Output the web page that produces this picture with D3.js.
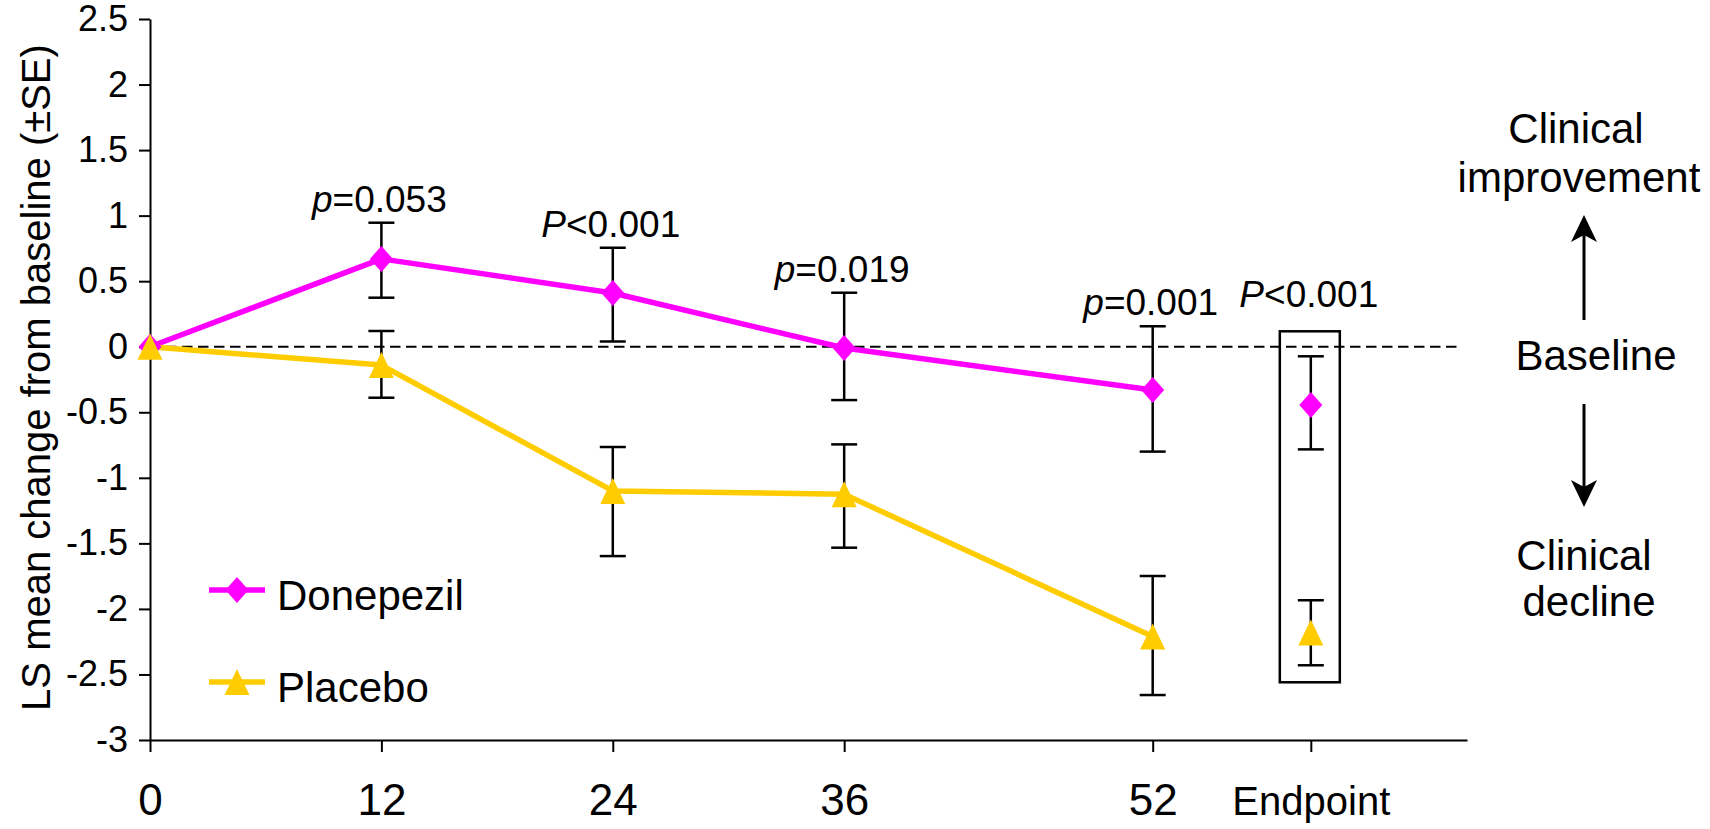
<!DOCTYPE html>
<html>
<head>
<meta charset="utf-8">
<script src="https://cdn.jsdelivr.net/npm/d3@7/dist/d3.min.js"></script>
<style>
  html, body { margin: 0; padding: 0; background: #fff; }
  svg { display: block; font-family: Arial, "Liberation Sans", Helvetica, sans-serif; }
</style>
</head>
<body>
<svg id="chart" width="1710" height="829"></svg>
<script>
// ---------------- data ----------------
const weeks = [0, 12, 24, 36, 52];
const endpointWeek = 60.2;               // category position of "Endpoint"
const xTickValues = [0, 12, 24, 36, 52, endpointWeek];
const xTickLabels = ["0", "12", "24", "36", "52", "Endpoint"];
const yTickValues = [2.5, 2, 1.5, 1, 0.5, 0, -0.5, -1, -1.5, -2, -2.5, -3];

const donepezilMean  = [0, 0.67, 0.41, -0.01, -0.33];
const donepezilUpper = [null, 0.946, 0.755, 0.412, 0.156];
const donepezilLower = [null, 0.374, 0.040, -0.407, -0.800];

const placeboMean  = [0, -0.14, -1.10, -1.125, -2.21];
const placeboUpper = [null, 0.120, -0.765, -0.745, -1.749];
const placeboLower = [null, -0.389, -1.597, -1.533, -2.657];

const endpointDonepezil = { mean: -0.445, upper: -0.073, lower: -0.783 };
const endpointPlacebo   = { mean: -2.18,  upper: -1.934, lower: -2.430 };

const pItalic = ["p", "P", "p", "p", "P"];
const pRest   = ["=0.053", "<0.001", "=0.019", "=0.001", "<0.001"];
const pWeeks  = [12, 24, 36, 52, endpointWeek];

const seriesNames = ["Donepezil", "Placebo"];
const seriesColors = ["#FF00FF", "#FFCC00"];

// ---------------- layout ----------------
const svg = d3.select("#chart");
const x = d3.scaleLinear().domain([0, 68.3]).range([150, 1467]);
const y = d3.scaleLinear().domain([-3, 2.5]).range([740, 19]);

// diamond & triangle paths (bbox centred)
const diamond = (w, h) => `M0,${-h/2}L${w/2},0L0,${h/2}L${-w/2},0Z`;
const triangle = (w, h) => `M0,${-h/2}L${w/2},${h/2}L${-w/2},${h/2}Z`;
const markerPath = [diamond(23, 26), triangle(25, 26)];

// ---------------- axes ----------------
const yAxis = d3.axisLeft(y).tickValues(yTickValues).tickFormat(d => String(d))
  .tickSize(11).tickSizeOuter(0).tickPadding(11);
const gy = svg.append("g").attr("transform", `translate(${x(0)},0)`).call(yAxis);
gy.selectAll("path, line").attr("stroke", "#000").attr("stroke-width", 2);
gy.selectAll("text").attr("font-size", 36).attr("fill", "#000")
  .attr("font-family", "Arial, 'Liberation Sans', sans-serif");

const xAxis = d3.axisBottom(x).tickValues(xTickValues)
  .tickFormat((d, i) => xTickLabels[i]).tickSize(12).tickSizeOuter(0).tickPadding(32);
const gx = svg.append("g").attr("transform", `translate(0,${y(-3)})`).call(xAxis);
gx.selectAll("path, line").attr("stroke", "#000").attr("stroke-width", 2);
gx.selectAll("text").attr("font-size", 44).attr("fill", "#000")
  .attr("font-family", "Arial, 'Liberation Sans', sans-serif");
gx.selectAll(".tick text").filter((d, i) => xTickLabels[i] === "Endpoint")
  .attr("font-size", 40).attr("dy", "0.78em");

// y axis title
svg.append("text")
  .attr("transform", `translate(50,${(y(2.5) + y(-3)) / 2 - 2}) rotate(-90)`)
  .attr("text-anchor", "middle")
  .attr("font-size", 40)
  .text("LS mean change from baseline (±SE)");

// baseline dashed line
svg.append("line")
  .attr("x1", x(0)).attr("x2", 1462)
  .attr("y1", y(0)).attr("y2", y(0))
  .attr("stroke", "#000").attr("stroke-width", 2)
  .attr("stroke-dasharray", "10.5,5.5");

// ---------------- series ----------------
const series = [
  { mean: donepezilMean, upper: donepezilUpper, lower: donepezilLower, end: endpointDonepezil },
  { mean: placeboMean, upper: placeboUpper, lower: placeboLower, end: endpointPlacebo }
];

const line = d3.line().x(d => x(d.w)).y(d => y(d.v));
series.forEach((s, k) => {
  svg.append("path")
    .datum(weeks.map((w, i) => ({ w, v: s.mean[i] })))
    .attr("d", line)
    .attr("fill", "none")
    .attr("stroke", seriesColors[k])
    .attr("stroke-width", 5.5)
    .attr("stroke-linejoin", "round");
});

// error bars
const capHalf = 13;
function errorBar(w, lo, hi) {
  const g = svg.append("g").attr("stroke", "#000").attr("stroke-width", 2.5);
  g.append("line").attr("x1", x(w)).attr("x2", x(w)).attr("y1", y(hi)).attr("y2", y(lo));
  g.append("line").attr("x1", x(w) - capHalf).attr("x2", x(w) + capHalf).attr("y1", y(hi)).attr("y2", y(hi));
  g.append("line").attr("x1", x(w) - capHalf).attr("x2", x(w) + capHalf).attr("y1", y(lo)).attr("y2", y(lo));
}
series.forEach(s => {
  weeks.forEach((w, i) => { if (s.upper[i] !== null) errorBar(w, s.lower[i], s.upper[i]); });
  errorBar(endpointWeek, s.end.lower, s.end.upper);
});

// markers
series.forEach((s, k) => {
  const pts = weeks.map((w, i) => ({ w, v: s.mean[i] })).concat([{ w: endpointWeek, v: s.end.mean }]);
  svg.append("g").selectAll("path").data(pts).join("path")
    .attr("d", markerPath[k])
    .attr("transform", d => `translate(${x(d.w)},${y(d.v)})`)
    .attr("fill", seriesColors[k]);
});

// endpoint box
const boxTop = y(Math.max(endpointDonepezil.upper, endpointPlacebo.upper)) - 25;
const boxBottom = y(Math.min(endpointDonepezil.lower, endpointPlacebo.lower)) + 17;
svg.append("rect")
  .attr("x", x(endpointWeek) - 31).attr("width", 60)
  .attr("y", boxTop).attr("height", boxBottom - boxTop)
  .attr("fill", "none").attr("stroke", "#000").attr("stroke-width", 2.5);

// p-value labels
pWeeks.forEach((w, i) => {
  let base;
  if (w === endpointWeek) base = boxTop - 24;
  else base = y(donepezilUpper[weeks.indexOf(w)]) - 11;
  const t = svg.append("text")
    .attr("x", x(w) - 2).attr("y", base)
    .attr("text-anchor", "middle").attr("font-size", 37);
  t.append("tspan").attr("font-style", "italic").text(pItalic[i]);
  t.append("tspan").text(pRest[i]);
});

// legend
const legY = [590, 682];
seriesNames.forEach((name, k) => {
  const g = svg.append("g");
  g.append("line").attr("x1", 209).attr("x2", 265).attr("y1", legY[k]).attr("y2", legY[k])
    .attr("stroke", seriesColors[k]).attr("stroke-width", 5.5);
  g.append("path").attr("d", markerPath[k])
    .attr("transform", `translate(237,${legY[k]})`).attr("fill", seriesColors[k]);
  g.append("text").attr("x", 277).attr("y", legY[k] + 20).attr("font-size", 42).text(name);
});

// right-side annotation
const ann = svg.append("g").attr("text-anchor", "middle").attr("font-size", 42);
ann.append("text").attr("x", 1576).attr("y", 143).text("Clinical");
ann.append("text").attr("x", 1579).attr("y", 192).text("improvement");
ann.append("text").attr("x", 1596).attr("y", 370).text("Baseline");
ann.append("text").attr("x", 1584).attr("y", 570).text("Clinical");
ann.append("text").attr("x", 1589).attr("y", 616).text("decline");

function arrow(xc, yFrom, yTip) {
  const dir = yTip < yFrom ? 1 : -1; // 1 = up
  svg.append("line").attr("x1", xc).attr("x2", xc).attr("y1", yFrom).attr("y2", yTip + dir * 12)
    .attr("stroke", "#000").attr("stroke-width", 3);
  svg.append("path")
    .attr("d", `M0,0L-13,${dir * 27}L0,${dir * 20}L13,${dir * 27}Z`)
    .attr("transform", `translate(${xc},${yTip})`)
    .attr("fill", "#000");
}
arrow(1584, 320, 215);
arrow(1584, 404, 507);
</script>
</body>
</html>
